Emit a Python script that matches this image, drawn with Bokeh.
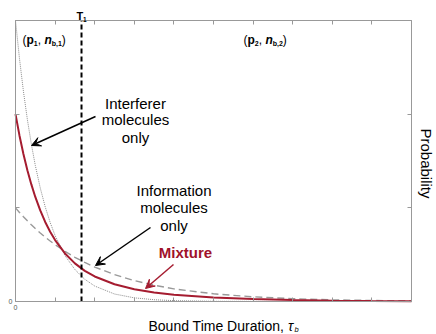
import math
from bokeh.plotting import figure
from bokeh.models import Label, Arrow, VeeHead, LinearAxis, Range1d, FixedTicker
from bokeh.embed import file_html
from bokeh.resources import INLINE

# ---- data ----
t = [0, 0.1, 0.2, 0.3, 0.4, 0.5, 0.625, 0.75, 0.875, 1.0, 1.25, 1.5, 1.75, 2.0,
     2.5, 3.0, 3.5, 4.0, 5.0, 6.0, 7.0, 8.0, 9.0, 10.0]
interferer = [3.000, 2.595, 2.245, 1.942, 1.680, 1.453, 1.212, 1.011, 0.844, 0.704,
              0.490, 0.341, 0.237, 0.165, 0.080, 0.039, 0.019, 0.009, 0.002, 0.001,
              0.000, 0.000, 0.000, 0.000]
information = [1.000, 0.951, 0.905, 0.861, 0.819, 0.779, 0.732, 0.687, 0.646, 0.607,
               0.535, 0.472, 0.417, 0.368, 0.287, 0.223, 0.174, 0.135, 0.082, 0.050,
               0.030, 0.018, 0.011, 0.007]
mixture = [2.000, 1.773, 1.575, 1.402, 1.250, 1.116, 0.972, 0.849, 0.745, 0.656,
           0.513, 0.407, 0.327, 0.267, 0.184, 0.131, 0.097, 0.072, 0.042, 0.026,
           0.015, 0.009, 0.006, 0.004]
T1 = 1.667
x_ticks = [0, 1, 2, 3, 4, 5, 6, 7, 8, 9, 10]
y_ticks = [0, 1, 2, 3]

# ---- layout (pixels on the 436x334 canvas) ----
W, H = 436, 334
BORDER = 0
BOX_L, BOX_R, BOX_T, BOX_B = 15, 411, 20, 301
X0, X1 = x_ticks[0], x_ticks[-1]
Y0, Y1 = y_ticks[0], y_ticks[-1]
PX_X = (BOX_R - BOX_L) / (X1 - X0)
PX_Y = (BOX_B - BOX_T) / (Y1 - Y0)


def dx(px):
    return X0 + (px - BOX_L) / PX_X


def dy(py):
    return Y0 + (BOX_B - py) / PX_Y


FONT = "Liberation Sans"
RED = "#a51c30"
AX = "#999999"

p = figure(width=W, height=H,
           x_range=Range1d(dx(BORDER), dx(W - BORDER)),
           y_range=Range1d(dy(H - BORDER), dy(BORDER)),
           output_backend="svg", toolbar_location=None,
           x_axis_location=None, y_axis_location=None,
           min_border_left=BORDER, min_border_right=BORDER,
           min_border_top=BORDER, min_border_bottom=BORDER)
p.xgrid.visible = False
p.ygrid.visible = False
p.outline_line_color = None
p.background_fill_color = "white"
p.border_fill_color = "white"


def box_axis(place, loc, bounds, ticks):
    ax = LinearAxis(fixed_location=loc, bounds=bounds,
                    ticker=FixedTicker(ticks=[], minor_ticks=ticks))
    ax.axis_line_color = AX
    ax.axis_line_width = 1
    ax.major_tick_line_color = None
    ax.minor_tick_line_color = AX
    ax.minor_tick_in = 4
    ax.minor_tick_out = 0
    ax.major_tick_in = 0
    ax.major_tick_out = 0
    ax.major_label_standoff = 0
    ax.axis_label_standoff = 0
    ax.major_label_text_font_size = "7px"
    p.add_layout(ax, place)


box_axis("below", Y0, (X0, X1), x_ticks)
box_axis("above", Y1, (X0, X1), x_ticks)
box_axis("left", X0, (Y0, Y1), y_ticks)
box_axis("right", X1, (Y0, Y1), y_ticks)

p.line(t, information, line_color="#999999", line_width=1.4, line_dash="7 4")
p.line(t, interferer, line_color="#8c8c8c", line_width=1, line_dash="1 1")
p.line(t, mixture, line_color=RED, line_width=2)
p.line([T1, T1], [Y0, Y1], line_color="black", line_width=2, line_dash="5 3")

W_REG = {'(': .333, ')': .333, ',': .278, ' ': .278, 'b': .556}
W_BOLD = {'p': .611, 'n': .611, 'b': .611, ',': .278, ' ': .278, 'T': .611}


def text_w(s, size, style):
    tab = W_BOLD if "bold" in style else W_REG
    return sum(tab.get(c, .556) for c in s) * size


def txt(px, py, s, size, style="normal", color="black", align="left",
        baseline="alphabetic", angle=0, x_off=0):
    p.add_layout(Label(x=dx(px), y=dy(py), x_offset=x_off, text=s, text_font=FONT,
                       text_font_size=f"{size}px", text_font_style=style,
                       text_color=color, text_align=align, text_baseline=baseline,
                       angle=angle))


def rich(px, py, pieces, color="black"):
    off = 0.0
    for s, size, style, drop in pieces:
        txt(px, py + drop, s, size, style, color, x_off=off)
        off += text_w(s, size, style)


def pair_label(px, idx):
    rich(px, 39, [("(", 12, "normal", 0), ("p", 12, "bold", 0), (idx, 7, "bold", 3.5),
                  (",", 12, "normal", 0), (" ", 12, "normal", 0),
                  ("n", 12, "bold italic", 0),
                  ("b," + idx, 7, "bold", 3.5), (")", 12, "normal", 0)])


pair_label(22, "1")
pair_label(243, "2")

# T1 marker label
txt(76, 15.5, "T", 11, style="bold")
txt(82.5, 19, "1", 6.5, style="bold")

# tick labels "0"
txt(12, 301, "0", 7, color="#555555", align="right", baseline="middle")
txt(15, 304, "0", 7, color="#555555", align="center", baseline="top")

# axis titles
txt(148, 325, "Bound Time Duration,", 14)
txt(287.5, 325, "τ", 14, style="italic")
txt(294, 328.5, "b", 7.5, style="italic")
txt(426, 163, "Probability", 15, align="center", baseline="middle", angle=-math.pi / 2)

for py, s in zip([103, 119, 137], ["Interferer", "molecules", "only"]):
    txt(135, py, s, 15, align="center", baseline="middle")
for py, s in zip([190, 207, 225], ["Information", "molecules", "only"]):
    txt(173.5, py, s, 15, align="center", baseline="middle")
txt(185, 252, "Mixture", 15, style="bold", color="#a0122a", align="center",
    baseline="middle")


def arrow(x0, y0, x1, y1, color):
    p.add_layout(Arrow(x_start=dx(x0), y_start=dy(y0), x_end=dx(x1), y_end=dy(y1),
                       line_color=color, line_width=1.5,
                       end=VeeHead(size=9, fill_color=color, line_color=color)))


arrow(95, 116, 31, 145, "black")
arrow(150, 227, 95, 265, "black")
arrow(173, 264, 145, 288, RED)

open("out.html", "w").write(file_html(p, INLINE))
